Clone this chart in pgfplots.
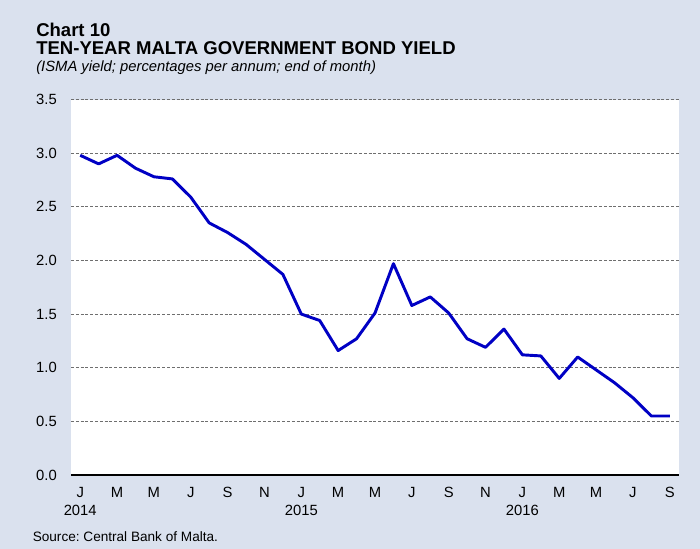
\documentclass[border=0pt]{standalone}
\usepackage{pgfplots}
\pgfplotsset{compat=1.18}
\usepackage{fontspec}
\setmainfont{Liberation Sans}
\frenchspacing

\definecolor{bgblue}{RGB}{218,225,238}
\definecolor{lineblue}{RGB}{0,0,196}
\definecolor{gridgray}{RGB}{110,110,110}

% month index 0 = Jan 2014 ... 32 = Sep 2016
\pgfplotstableread{
idx yield
0  2.98
1  2.90
2  2.98
3  2.86
4  2.78
5  2.76
6  2.59
7  2.35
8  2.26
9  2.15
10 2.01
11 1.87
12 1.50
13 1.44
14 1.16
15 1.27
16 1.51
17 1.97
18 1.58
19 1.66
20 1.51
21 1.27
22 1.19
23 1.36
24 1.12
25 1.11
26 0.90
27 1.10
28 0.98
29 0.86
30 0.72
31 0.55
32 0.55
}\yieldtab

\begin{document}
\begin{tikzpicture}
  \path[use as bounding box, fill=bgblue] (0,0) rectangle (525pt,411.75pt);

  \node[anchor=base west, inner sep=0pt, font=\fontsize{13.9}{16}\selectfont\bfseries]
    at (27pt,384pt) {Chart 10};
  \node[anchor=base west, inner sep=0pt, font=\fontsize{13.9}{16}\selectfont\bfseries]
    at (27pt,370.5pt) {TEN-YEAR MALTA GOVERNMENT BOND YIELD};
  \node[anchor=base west, inner sep=0pt, font=\fontsize{11.1}{13}\selectfont\itshape]
    at (27pt,357.75pt) {(ISMA yield; percentages per annum; end of month)};
  \node[anchor=base west, inner sep=0pt, font=\fontsize{10.2}{12}\selectfont]
    at (24.4pt,5.25pt) {Source: Central Bank of Malta.};

  \begin{axis}[
      at={(53.25pt,55.5pt)}, anchor=south west,
      width=456pt, height=281.6pt, scale only axis,
      axis background/.style={fill=white},
      xmin=-0.5, xmax=32.5,
      ymin=0, ymax=3.5,
      axis x line*=bottom,
      axis y line*=left,
      x axis line style={draw=black, line width=1.8pt},
      y axis line style={draw=none},
      major tick length=0pt,
      xtick={0,2,...,32},
      xticklabels={{J\\2014},M,M,J,S,N,{J\\2015},M,M,J,S,N,{J\\2016},M,M,J,S},
      xticklabel style={anchor=north, inner sep=0pt, yshift=-9pt, align=center,
        font=\fontsize{11.1}{13.5}\selectfont},
      ytick={0,0.5,...,3.5},
      yticklabel style={anchor=east, inner sep=0pt, xshift=-10.5pt,
        font=\fontsize{11.1}{13.5}\selectfont},
      /pgf/number format/.cd, fixed, fixed zerofill, precision=1, assume math mode=true,
      /pgfplots/.cd,
      ymajorgrids,
      major grid style={draw=gridgray, line width=0.6pt, dash pattern=on 2.2pt off 1.4pt},
      clip=false,
    ]
    \addplot[lineblue, line width=2.2pt, line join=round, no markers] table[x=idx, y=yield] {\yieldtab};
  \end{axis}
\end{tikzpicture}
\end{document}
